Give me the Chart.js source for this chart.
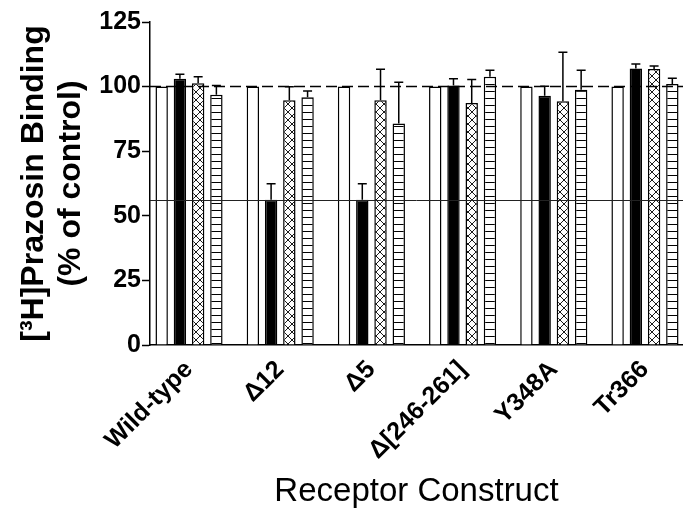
<!DOCTYPE html>
<html>
<head>
<meta charset="utf-8">
<script src="https://cdn.jsdelivr.net/npm/chart.js@4.4.0/dist/chart.umd.min.js"></script>
<style>
  body { margin: 0; background: #fff; }
</style>
</head>
<body>
<canvas id="myChart" width="683" height="512"></canvas>
<script>
// receptor constructs and the four bar series (% of control)
const constructs = ["Wild-type", "Δ12", "Δ5", "Δ[246-261]", "Y348A", "Tr366"]
const controlVals = [100, 100, 100, 100, 100, 100]
const blackVals = [103, 56.2, 56.2, 100.4, 96.5, 107]
const blackErr = [1.8, 6.2, 6.2, 2.6, 3.6, 1.7]
const crossVals = [101.3, 94.7, 94.7, 93.7, 94.3, 106.8]
const crossErr = [2.5, 5.2, 12, 9, 19, 1.2]
const stripeVals = [96.8, 95.9, 85.7, 103.8, 98.8, 101]
const stripeErr = [3.6, 2.4, 16, 2.5, 7.5, 2.2]
const yTicks = [0, 25, 50, 75, 100, 125]
const dashedLevel = 100
const solidLevel = 56.2

const FONT = "'Liberation Sans', Arial, sans-serif"

function makePattern(kind) {
  const c = document.createElement('canvas')
  const p = c.getContext('2d')
  if (kind === 'cross') {
    c.width = 8; c.height = 8
    p.fillStyle = '#fff'; p.fillRect(0, 0, 8, 8)
    p.strokeStyle = '#000'; p.lineWidth = 0.9
    p.beginPath()
    p.moveTo(0, 0); p.lineTo(8, 8)
    p.moveTo(8, 0); p.lineTo(0, 8)
    p.stroke()
  } else {
    c.width = 8; c.height = 7
    p.fillStyle = '#fff'; p.fillRect(0, 0, 8, 7)
    p.fillStyle = '#000'; p.fillRect(0, 0, 8, 1)
  }
  return document.getElementById('myChart').getContext('2d').createPattern(c, 'repeat')
}

const toPoints = (vals) => vals.map((v, i) => ({ x: i, y: v }))

const refLines = {
  id: 'refLines',
  afterDatasetsDraw(chart) {
    const { ctx, chartArea } = chart
    const y = chart.scales.y
    ctx.save()
    ctx.strokeStyle = '#222'
    ctx.lineWidth = 1
    let py = Math.round(y.getPixelForValue(solidLevel)) + 0.5
    ctx.beginPath(); ctx.moveTo(chartArea.left, py); ctx.lineTo(chartArea.right, py); ctx.stroke()
    ctx.strokeStyle = '#000'
    ctx.lineWidth = 1.5
    ctx.setLineDash([11, 5])
    py = y.getPixelForValue(dashedLevel)
    ctx.beginPath(); ctx.moveTo(chartArea.left, py); ctx.lineTo(chartArea.right, py); ctx.stroke()
    ctx.restore()
  }
}

const errorBars = {
  id: 'errorBars',
  afterDatasetsDraw(chart) {
    const ctx = chart.ctx
    const y = chart.scales.y
    ctx.save()
    ctx.strokeStyle = '#000'
    ctx.lineWidth = 1.5
    chart.data.datasets.forEach((ds, d) => {
      if (!ds.errors) return
      chart.getDatasetMeta(d).data.forEach((bar, i) => {
        const e = ds.errors[i]
        if (!e) return
        const top = y.getPixelForValue(ds.data[i].y + e)
        ctx.beginPath()
        ctx.moveTo(bar.x, bar.y)
        ctx.lineTo(bar.x, top)
        ctx.moveTo(bar.x - 4.5, top)
        ctx.lineTo(bar.x + 4.5, top)
        ctx.stroke()
      })
    })
    ctx.restore()
  }
}

const minorTicks = {
  id: 'minorTicks',
  afterDraw(chart) {
    const ctx = chart.ctx
    const y = chart.scales.y
    ctx.save()
    ctx.strokeStyle = '#000'
    ctx.lineWidth = 1.5
    y.ticks.forEach((t) => {
      if (yTicks.includes(t.value)) return
      const py = y.getPixelForValue(t.value)
      ctx.beginPath(); ctx.moveTo(y.right - 4, py); ctx.lineTo(y.right, py); ctx.stroke()
    })
    ctx.restore()
  }
}

const barStyle = { borderColor: '#000', borderWidth: 1.5, categoryPercentage: 0.8, barPercentage: 0.68 }

new Chart(document.getElementById('myChart'), {
  type: 'bar',
  data: {
    datasets: [
      { ...barStyle, data: toPoints(controlVals), backgroundColor: '#fff' },
      { ...barStyle, data: toPoints(blackVals), errors: blackErr, backgroundColor: '#000' },
      { ...barStyle, data: toPoints(crossVals), errors: crossErr, backgroundColor: makePattern('cross') },
      { ...barStyle, data: toPoints(stripeVals), errors: stripeErr, backgroundColor: makePattern('stripe') },
    ]
  },
  options: {
    responsive: false,
    animation: false,
    layout: { padding: { top: 22, left: 0, right: 0, bottom: 0 } },
    plugins: { legend: { display: false }, tooltip: { enabled: false } },
    scales: {
      x: {
        type: 'linear',
        offset: false,
        min: -0.428,
        max: 5.417,
        afterBuildTicks: (s) => { s.ticks = constructs.map((c, i) => ({ value: i })) },
        afterFit: (s) => { s.height = 167; s.paddingLeft = 0; s.paddingRight = 0 },
        grid: { display: false, drawTicks: false, offset: false },
        border: { color: '#000', width: 1.5 },
        ticks: {
          autoSkip: false,
          minRotation: 45,
          maxRotation: 45,
          padding: 10,
          color: '#000',
          font: { family: FONT, size: 25, weight: 'bold' },
          callback: (v) => constructs[v]
        },
        title: {
          display: true,
          text: 'Receptor Construct',
          color: '#000',
          font: { family: FONT, size: 33 },
          padding: { top: 0, bottom: 0 }
        }
      },
      y: {
        min: 0,
        max: 125,
        afterFit: (s) => { s.width = 150 },
        grid: {
          drawOnChartArea: false,
          tickLength: 8,
          tickWidth: 1.5,
          tickColor: (c) => yTicks.includes(c.tick.value) ? '#000' : 'rgba(0,0,0,0)'
        },
        border: { color: '#000', width: 1.5 },
        ticks: {
          stepSize: 12.5,
          padding: 1,
          color: '#000',
          font: { family: FONT, size: 25, weight: 'bold' },
          callback: (v) => yTicks.includes(v) ? v : ''
        },
        title: {
          display: true,
          text: ['[³H]Prazosin Binding', '(% of control)'],
          color: '#000',
          font: { family: FONT, size: 32, weight: 'bold', lineHeight: 1.15 },
          padding: { top: 16, bottom: 0 }
        }
      }
    }
  },
  plugins: [refLines, errorBars, minorTicks]
})
</script>
</body>
</html>
